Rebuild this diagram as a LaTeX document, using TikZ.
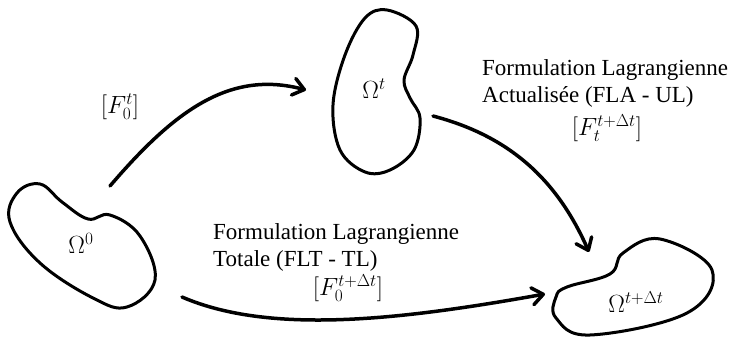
\documentclass[tikz,border=0pt]{standalone}
\usepackage{fontspec}
\setmainfont{Liberation Serif}
\usetikzlibrary{arrows.meta}
\begin{document}
\begin{tikzpicture}[x=1pt,y=-1pt,
  blob/.style={line width=3pt, line join=round},
  flow/.style={line width=3.5pt, line cap=round, -{Straight Barb[length=11pt,width=17pt,line cap=round,line join=round]}},
  lbl/.style={font=\fontsize{23}{27}\selectfont, inner sep=0pt, align=left},
  mlbl/.style={font=\fontsize{24}{27}\selectfont, inner sep=0pt}]
\useasboundingbox (0,0) rectangle (731,339);
% blobs
\draw[blob] plot[smooth cycle, tension=0.65] coordinates {(40,184) (62,202) (88,219) (110,215) (140,236) (155,280) (127,307) (93,298) (40,263) (10,222) (17,193)};
\draw[blob] plot[smooth cycle, tension=0.6] coordinates {(387,10) (416,26) (413,55) (404,80) (410,98) (420,118) (414,150) (390,170) (365,172) (340,150) (333,105) (345,55) (365,18)};
\draw[blob] plot[smooth cycle, tension=0.65] coordinates {(567,287) (610,274) (623,253) (660,239) (712,270) (687,313) (590,335) (556,318) (556,297)};
% labels
\node[mlbl] (o0) at (81,243) {$\Omega^{0}$};
\node[mlbl] (ot) at (374,89) {$\Omega^{t}$};
\node[mlbl] (otd) at (636,302) {$\Omega^{t+\Delta t}$};
\node[mlbl] (f1) at (120,107) {$[F_0^{t}]$};
\node[lbl, anchor=west] (t1) at (482,83) {Formulation Lagrangienne\\Actualisée (FLA - UL)};
\node[mlbl] (f2) at (607,128) {$\bigl[F_t^{t+\Delta t}\bigr]$};
\node[lbl, anchor=west] (t2) at (213,247) {Formulation Lagrangienne\\Totale (FLT - TL)};
\node[mlbl] (f3) at (348,288) {$\bigl[F_0^{t+\Delta t}\bigr]$};
% arrows
\coordinate (a1s) at (110,186);
\coordinate (a1e) at (306,90);
\coordinate (a2s) at (433,116);
\coordinate (a2e) at (589,252);
\coordinate (a3s) at (182,297);
\coordinate (a3e) at (545,294);
\draw[flow] (a1s) .. controls (175,110) and (230,70) .. (a1e);
\draw[flow] (a2s) .. controls (505,135) and (555,175) .. (a2e);
\draw[flow] (a3s) .. controls (270,335) and (400,320) .. (a3e);
\end{tikzpicture}
\end{document}
